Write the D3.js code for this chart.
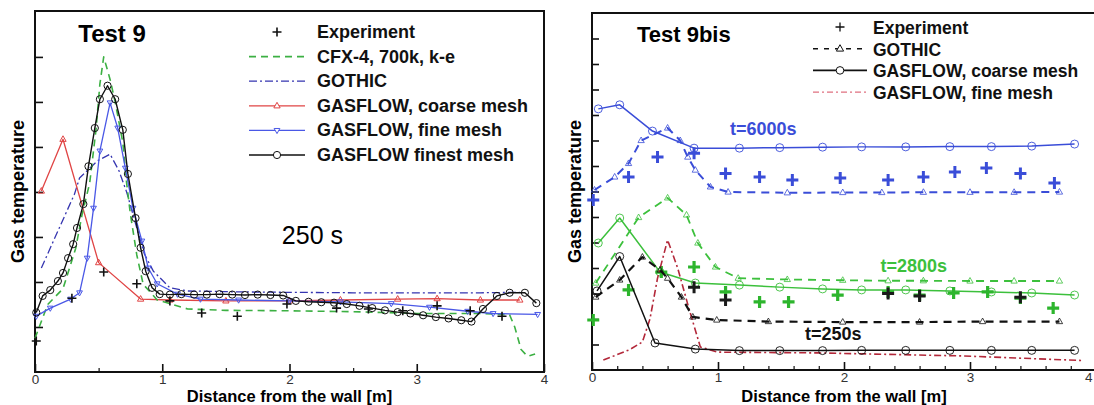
<!DOCTYPE html>
<html><head><meta charset="utf-8">
<script src="https://cdn.jsdelivr.net/npm/d3@7"></script>
<style>
body{margin:0;background:#fff}
svg{display:block}
text{font-family:"Liberation Sans",Arial,Helvetica,sans-serif}
</style>
</head><body>
<svg id="chart" width="1094" height="405"></svg>
<script>
// ---------------- DATA (x = distance from wall [m], y = relative gas temperature) ----------------
// Test 9 (250 s)
const xTicks = [0, 1, 2, 3, 4];
const xTickLabels = ["0", "1", "2", "3", "4"];
const yTicksLeft = [1, 2, 3, 4, 5, 6, 7];
const yTicksRight = [1, 2, 3, 4, 5, 6, 7, 8, 9, 10, 11, 12, 13];

const t9Experiment = [[0.01,0.69],[0.29,1.64],[0.54,2.22],[0.80,1.96],[1.06,1.58],[1.31,1.31],[1.59,1.24],[1.98,1.51],[2.37,1.42],[2.62,1.40],[2.89,1.36],[3.16,1.47],[3.42,1.36],[3.67,1.24]];
const t9Cfx = [[0.00,0.75],[0.10,1.50],[0.22,1.85],[0.32,2.75],[0.37,3.50],[0.43,4.20],[0.48,5.40],[0.51,6.40],[0.54,7.00],[0.59,6.50],[0.63,6.00],[0.69,5.10],[0.72,4.20],[0.75,3.50],[0.80,2.60],[0.85,1.95],[0.96,1.60],[1.06,1.52],[1.20,1.40],[1.50,1.37],[2.00,1.36],[2.50,1.34],[3.00,1.30],[3.50,1.30],[3.73,1.27],[3.77,1.00],[3.82,0.50],[3.87,0.35],[3.93,0.40]];
const t9Gothic = [[0.05,2.31],[0.17,3.07],[0.31,3.95],[0.35,4.31],[0.49,4.69],[0.59,4.84],[0.66,4.47],[0.72,4.00],[0.80,3.20],[0.86,2.62],[0.93,2.24],[1.06,1.87],[1.20,1.80],[1.60,1.78],[2.00,1.77],[2.50,1.76],[3.00,1.76],[3.50,1.76],[3.81,1.77]];
const t9GasflowCoarse = [[0.05,4.02],[0.22,5.17],[0.50,2.43],[0.83,1.62],[1.06,1.60],[1.50,1.58],[2.00,1.58],[2.40,1.60],[2.85,1.62],[3.16,1.63],[3.50,1.60],[3.81,1.60]];
const t9GasflowFine = [[0.01,1.24],[0.12,1.42],[0.28,1.62],[0.35,1.76],[0.41,2.53],[0.46,3.64],[0.51,4.91],[0.59,5.98],[0.65,5.42],[0.71,4.53],[0.77,3.64],[0.84,2.91],[0.89,2.31],[0.96,1.96],[1.12,1.73],[1.30,1.62],[1.60,1.60],[2.00,1.58],[2.40,1.56],[2.80,1.52],[3.10,1.44],[3.40,1.35],[3.60,1.30],[3.95,1.28]];
const t9GasflowFinest = [[0.01,1.32],[0.06,1.69],[0.12,1.82],[0.18,2.02],[0.22,2.20],[0.26,2.53],[0.30,2.84],[0.33,3.20],[0.38,3.73],[0.42,4.57],[0.47,5.42],[0.51,6.06],[0.57,6.36],[0.63,6.06],[0.69,5.38],[0.73,4.40],[0.79,3.42],[0.83,2.76],[0.87,2.24],[0.92,1.87],[0.98,1.73],[1.06,1.72],[1.15,1.73],[1.25,1.72],[1.35,1.72],[1.45,1.73],[1.55,1.72],[1.65,1.71],[1.75,1.72],[1.85,1.71],[1.95,1.70],[2.05,1.58],[2.15,1.56],[2.25,1.55],[2.35,1.54],[2.45,1.51],[2.55,1.47],[2.65,1.42],[2.75,1.37],[2.85,1.33],[2.95,1.30],[3.05,1.26],[3.15,1.22],[3.25,1.19],[3.35,1.15],[3.43,1.12],[3.52,1.40],[3.63,1.69],[3.73,1.76],[3.85,1.76],[3.94,1.53]];

// Test 9bis (t = 6000 s, 2800 s, 250 s)
const t6000Experiment = [[0.01,6.67],[0.29,7.57],[0.52,8.35],[0.81,8.50],[1.06,7.71],[1.33,7.57],[1.59,7.45],[1.97,7.53],[2.35,7.45],[2.63,7.57],[2.88,7.76],[3.13,7.92],[3.40,7.71],[3.67,7.33]];
const t6000Gothic = [[0.02,7.06],[0.18,7.57],[0.29,8.10],[0.39,9.00],[0.60,9.49],[0.70,9.00],[0.76,8.35],[0.82,7.84],[0.94,7.18],[1.08,6.98],[1.55,6.95],[1.99,6.96],[2.30,6.96],[2.63,6.97],[3.00,6.97],[3.35,6.97],[3.71,6.98]];
const t6000GasflowCoarse = [[0.05,10.24],[0.22,10.40],[0.48,9.37],[0.81,8.70],[1.17,8.70],[1.49,8.72],[1.83,8.74],[2.14,8.75],[2.49,8.75],[2.84,8.76],[3.17,8.76],[3.49,8.78],[3.83,8.86]];

const t2800Experiment = [[0.01,1.96],[0.29,3.14],[0.55,3.84],[0.81,4.04],[1.06,3.06],[1.33,2.67],[1.56,2.67],[1.95,2.94],[2.35,3.06],[2.60,2.94],[2.87,3.02],[3.14,3.06],[3.40,2.82],[3.66,2.43]];
const t2800Gothic = [[0.03,3.41],[0.37,5.98],[0.60,6.75],[0.75,6.08],[0.84,4.98],[0.98,4.04],[1.16,3.60],[1.55,3.55],[1.99,3.52],[2.35,3.50],[2.63,3.50],[3.00,3.49],[3.35,3.49],[3.71,3.49]];
const t2800GasflowCoarse = [[0.05,4.98],[0.22,5.96],[0.54,3.84],[0.82,3.41],[1.17,3.33],[1.49,3.25],[1.83,3.18],[2.14,3.14],[2.49,3.14],[2.84,3.10],[3.17,3.06],[3.49,3.02],[3.83,2.94]];

const t250Experiment = [[0.81,3.25],[1.06,2.75],[2.35,3.00],[2.60,2.90],[3.40,2.85]];
const t250Gothic = [[0.03,2.86],[0.22,3.53],[0.40,4.43],[0.54,3.92],[0.60,3.60],[0.71,2.86],[0.80,2.08],[0.99,1.96],[1.40,1.90],[1.99,1.88],[2.60,1.88],[3.10,1.90],[3.71,1.90]];
const t250GasflowCoarse = [[0.04,3.10],[0.22,4.45],[0.50,1.06],[0.82,0.82],[1.17,0.76],[1.49,0.76],[1.83,0.76],[2.14,0.77],[2.49,0.77],[2.84,0.77],[3.17,0.77],[3.49,0.77],[3.83,0.77]];
const t250GasflowFine = [[0.09,0.39],[0.30,0.80],[0.40,1.10],[0.46,2.00],[0.52,3.60],[0.60,5.10],[0.68,4.00],[0.77,2.40],[0.86,0.90],[1.00,0.70],[1.80,0.67],[2.95,0.55],[3.90,0.37]];

const legendLeft = ["Experiment", "CFX-4, 700k, k-e", "GOTHIC", "GASFLOW, coarse mesh", "GASFLOW, fine mesh", "GASFLOW finest mesh"];
const legendRight = ["Experiment", "GOTHIC", "GASFLOW, coarse mesh", "GASFLOW, fine mesh"];

// ---------------- DRAWING ----------------
const svg = d3.select("#chart");

function markerPath(type, s) {
  if (type === "plus") return `M${-s},0H${s}M0,${-s}V${s}`;
  if (type === "tri") return `M0,${-s}L${s*0.9},${s*0.6}L${-s*0.9},${s*0.6}Z`;
  if (type === "tridown") return `M0,${s}L${s*0.9},${-s*0.6}L${-s*0.9},${-s*0.6}Z`;
  return null;
}

function drawSeries(g, x, y, pts, st) {
  if (st.line) {
    g.append("path").datum(pts)
      .attr("d", d3.line().x(d => x(d[0])).y(d => y(d[1])))
      .attr("fill", "none").attr("stroke", st.color)
      .attr("stroke-width", st.width).attr("stroke-dasharray", st.dash || null)
      .attr("stroke-linejoin", "round");
  }
  if (st.marker) {
    const m = g.append("g");
    pts.forEach(d => {
      if (st.marker === "circle") {
        m.append("circle").attr("cx", x(d[0])).attr("cy", y(d[1])).attr("r", st.size)
          .attr("fill", "none").attr("stroke", st.mcolor || st.color).attr("stroke-width", st.mwidth || 1);
      } else {
        m.append("path").attr("d", markerPath(st.marker, st.size))
          .attr("transform", `translate(${x(d[0])},${y(d[1])})`)
          .attr("fill", "none").attr("stroke", st.mcolor || st.color).attr("stroke-width", st.mwidth || 1);
      }
    });
  }
}

function legendSample(g, x0, x1, yy, st) {
  if (st.line) {
    g.append("line").attr("x1", x0).attr("x2", x1).attr("y1", yy).attr("y2", yy)
      .attr("stroke", st.color).attr("stroke-width", st.width).attr("stroke-dasharray", st.dash || null);
  }
  if (st.marker) {
    const cx = (x0 + x1) / 2;
    if (st.marker === "circle") {
      g.append("circle").attr("cx", cx).attr("cy", yy).attr("r", st.size)
        .attr("fill", "#fff").attr("stroke", st.mcolor || st.color).attr("stroke-width", st.mwidth || 1);
    } else {
      g.append("path").attr("d", markerPath(st.marker, st.size))
        .attr("transform", `translate(${cx},${yy})`)
        .attr("fill", st.marker === "plus" ? "none" : "#fff").attr("stroke", st.mcolor || st.color).attr("stroke-width", st.mwidth || 1);
    }
  }
}

function panel(opt) {
  const x = d3.scaleLinear().domain([0, 4]).range([opt.left, opt.right]);
  const y = d3.scaleLinear().domain([0, opt.ymax]).range([opt.bottom, opt.top]);
  const g = svg.append("g");

  // minor x ticks
  g.append("g").attr("transform", `translate(0,${opt.bottom})`)
    .call(d3.axisBottom(x).tickValues(opt.minorX).tickSize(-4).tickFormat(""))
    .call(a => a.select(".domain").remove())
    .call(a => a.selectAll("line").attr("stroke", "#222").attr("stroke-width", 1.3));
  // major x ticks + labels
  const ax = g.append("g").attr("transform", `translate(0,${opt.bottom})`)
    .call(d3.axisBottom(x).tickValues(xTicks).tickSize(-8).tickPadding(2).tickFormat((d, i) => xTickLabels[i]));
  ax.select(".domain").remove();
  ax.selectAll("line").attr("stroke", "#111").attr("stroke-width", 1.6);
  ax.selectAll("text").attr("font-size", 13.5).attr("fill", "#333")
    .attr("font-family", '"Liberation Sans",Arial,sans-serif');
  // keep the last label inside the picture when the axis end lies at the picture edge
  ax.selectAll("text").filter(d => x(d) > 1088).attr("text-anchor", "end").attr("x", 1092 - x(4));
  // y ticks (no labels)
  g.append("g").attr("transform", `translate(${opt.left},0)`)
    .call(d3.axisLeft(y).tickValues(opt.yTicks).tickSize(-opt.ytick).tickFormat(""))
    .call(a => a.select(".domain").remove())
    .call(a => a.selectAll("line").attr("stroke", "#111").attr("stroke-width", 1.6));

  // frame
  g.append("rect").attr("x", opt.left).attr("y", opt.top)
    .attr("width", opt.right - opt.left).attr("height", opt.bottom - opt.top)
    .attr("fill", "none").attr("stroke", "#111").attr("stroke-width", 2);

  // axis titles
  g.append("text").attr("x", (opt.left + opt.right) / 2).attr("y", 402)
    .attr("text-anchor", "middle").attr("font-size", 16.5).attr("font-weight", "bold")
    .text("Distance from the wall [m]");
  g.append("text").attr("transform", `translate(${opt.ytitleX},${(opt.top + opt.bottom) / 2}) rotate(-90)`)
    .attr("text-anchor", "middle").attr("font-size", 18).attr("font-weight", "bold")
    .text("Gas temperature");
  return { g, x, y };
}

// ---- Left panel: Test 9 ----
const L = panel({ left: 35, right: 544, top: 11, bottom: 372, ymax: 8.02,
  yTicks: yTicksLeft, ytick: 8, minorX: [0.5, 1.5, 2.5, 3.5], ytitleX: 24 });

const stL = {
  exp:    { line: false, marker: "plus", size: 4.5, color: "#111", mwidth: 1.6 },
  cfx:    { line: true, color: "#3cb043", width: 1.6, dash: "7,5" },
  gothic: { line: true, color: "#3535b0", width: 1.3, dash: "8,3,2,3" },
  coarse: { line: true, color: "#e04545", width: 1.3, marker: "tri", size: 3.5 },
  fine:   { line: true, color: "#4a58e6", width: 1.3, marker: "tridown", size: 3.2 },
  finest: { line: true, color: "#111", width: 1.4, marker: "circle", size: 3.6 }
};
const lc = L.g.append("g");
drawSeries(lc, L.x, L.y, t9Gothic, stL.gothic);
drawSeries(lc, L.x, L.y, t9GasflowCoarse, stL.coarse);
drawSeries(lc, L.x, L.y, t9Cfx, stL.cfx);
drawSeries(lc, L.x, L.y, t9GasflowFine, stL.fine);
drawSeries(lc, L.x, L.y, t9GasflowFinest, stL.finest);
drawSeries(lc, L.x, L.y, t9Experiment, stL.exp);

L.g.append("text").attr("x", L.x(0.34)).attr("y", L.y(7.33)).attr("font-size", 24).attr("font-weight", "bold").text("Test 9");
L.g.append("text").attr("x", L.x(1.94)).attr("y", L.y(2.84)).attr("font-size", 25).text("250 s");

const legL = L.g.append("g");
const legLStyles = [stL.exp, stL.cfx, stL.gothic, stL.coarse, stL.fine, stL.finest];
legendLeft.forEach((name, i) => {
  const yy = 32 + i * 24.6;
  legendSample(legL, 249, 305, yy, legLStyles[i]);
  legL.append("text").attr("x", 317).attr("y", yy + 6).attr("font-size", 18).attr("font-weight", "bold")
    .attr("fill", "#111").text(name);
});

// ---- Right panel: Test 9bis ----
const R = panel({ left: 592, right: 1096, top: 13, bottom: 370, ymax: 14,
  yTicks: yTicksRight, ytick: 7, minorX: d3.range(0.2, 4, 0.2).filter(v => Math.abs(v - Math.round(v)) > 0.05), ytitleX: 581 });

const cBlue = "#3a4dd8", cGreen = "#3cc03c", cBlack = "#111", cRed = "#b3283a";
const rc = R.g.append("g");
// t = 6000 s
drawSeries(rc, R.x, R.y, t6000Gothic, { line: true, color: cBlue, width: 2, dash: "8,6", marker: "tri", size: 3.5, mwidth: 0.8 });
drawSeries(rc, R.x, R.y, t6000GasflowCoarse, { line: true, color: cBlue, width: 1.5, marker: "circle", size: 4, mwidth: 0.9 });
drawSeries(rc, R.x, R.y, t6000Experiment, { marker: "plus", size: 6, color: cBlue, mwidth: 3 });
// t = 2800 s
drawSeries(rc, R.x, R.y, t2800Gothic, { line: true, color: cGreen, width: 1.8, dash: "8,6", marker: "tri", size: 3.5, mwidth: 0.8 });
drawSeries(rc, R.x, R.y, t2800GasflowCoarse, { line: true, color: cGreen, width: 1.5, marker: "circle", size: 4, mwidth: 0.9 });
drawSeries(rc, R.x, R.y, t2800Experiment, { marker: "plus", size: 6, color: "#2db52d", mwidth: 3.2 });
// t = 250 s
drawSeries(rc, R.x, R.y, t250GasflowFine, { line: true, color: cRed, width: 1.6, dash: "7,3,2,3" });
drawSeries(rc, R.x, R.y, t250Gothic, { line: true, color: cBlack, width: 2.2, dash: "8,6", marker: "tri", size: 3.5, mwidth: 0.8 });
drawSeries(rc, R.x, R.y, t250GasflowCoarse, { line: true, color: cBlack, width: 1.5, marker: "circle", size: 4, mwidth: 0.9 });
drawSeries(rc, R.x, R.y, t250Experiment, { marker: "plus", size: 6, color: "#1a1a1a", mwidth: 3 });

R.g.append("text").attr("x", R.x(0.357)).attr("y", R.y(12.86)).attr("font-size", 22).attr("font-weight", "bold").text("Test 9bis");
R.g.append("text").attr("x", R.x(1.095)).attr("y", R.y(9.2)).attr("font-size", 18).attr("font-weight", "bold").attr("fill", cBlue).text("t=6000s");
R.g.append("text").attr("x", R.x(2.29)).attr("y", R.y(3.84)).attr("font-size", 18).attr("font-weight", "bold").attr("fill", cGreen).text("t=2800s");
R.g.append("text").attr("x", R.x(1.69)).attr("y", R.y(1.18)).attr("font-size", 18).attr("font-weight", "bold").attr("fill", cBlack).text("t=250s");

const legR = R.g.append("g");
const legRStyles = [
  { marker: "plus", size: 4.5, color: cBlack, mwidth: 1.3 },
  { line: true, color: cBlack, width: 1.5, dash: "5,6", marker: "tri", size: 4, mwidth: 1 },
  { line: true, color: cBlack, width: 1.6, marker: "circle", size: 3.8, mwidth: 1 },
  { line: true, color: "#e07080", width: 1.4, dash: "6,3,2,3" }
];
legendRight.forEach((name, i) => {
  const yy = 28 + i * 21.7;
  legendSample(legR, 813, 867, yy - 1, legRStyles[i]);
  legR.append("text").attr("x", 873).attr("y", yy + 6).attr("font-size", 17.5).attr("font-weight", "bold")
    .attr("fill", "#111").text(name);
});
</script>
</body></html>
